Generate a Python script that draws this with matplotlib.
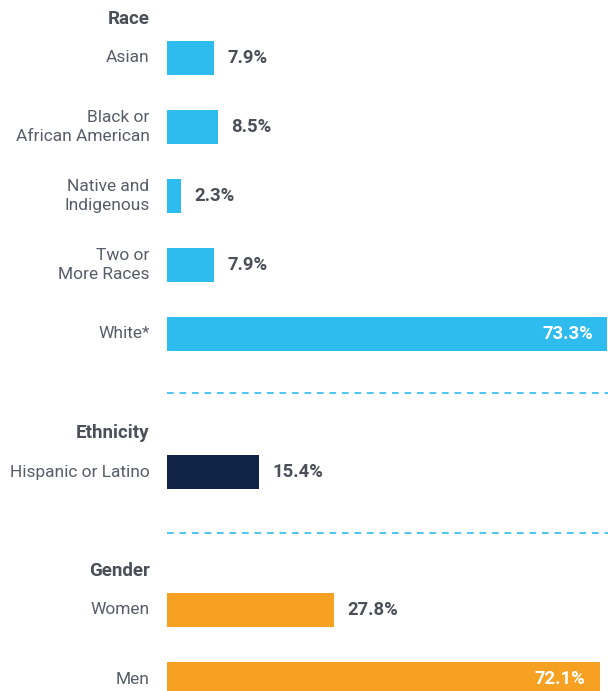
import matplotlib
matplotlib.use("Agg")
import matplotlib.pyplot as plt

# ---- data ----
race_labels = ["Asian", "Black or\nAfrican American", "Native and\nIndigenous", "Two or\nMore Races", "White*"]
race_values = [7.9, 8.5, 2.3, 7.9, 73.3]
eth_labels = ["Hispanic or Latino"]
eth_values = [15.4]
gender_labels = ["Women", "Men"]
gender_values = [27.8, 72.1]
section_titles = ["Race", "Ethnicity", "Gender"]

# ---- style ----
BLUE = "#2EBBEE"
NAVY = "#0F2346"
ORANGE = "#F7A123"
LABEL_C = "#585E69"
VALUE_C = "#4A4F58"
FONT = ["Roboto", "DejaVu Sans"]
plt.rcParams["font.family"] = FONT

W, H = 608, 691
fig = plt.figure(figsize=(W / 100, H / 100), dpi=100)
ax = fig.add_axes([0, 0, 1, 1])
ax.axis("off")

px_per_unit = 6.0
x0 = 167
ax.set_xlim(-x0 / px_per_unit, (W - x0) / px_per_unit)
slot = 69.0
top_c = 58.0
ax.set_ylim((H - top_c) / slot, -top_c / slot)

groups = [
    (section_titles[0], race_labels, race_values, BLUE, 0),
    (section_titles[1], eth_labels, eth_values, NAVY, 6),
    (section_titles[2], gender_labels, gender_values, ORANGE, 8),
]
header_offset = -0.57
bar_h = 34 / slot
label_x = -17.5 / px_per_unit
fs_lab = 12.5
fs_val = 13.3
fs_head = 13.5

for title, labels, values, color, start in groups:
    ys = [start + i for i in range(len(values))]
    ax.barh(ys, values, height=bar_h, color=color, left=0)
    ax.text(label_x, start + header_offset, title, ha="right", va="center",
            fontsize=fs_head, fontweight="bold", color=VALUE_C)
    for y, lab, v in zip(ys, labels, values):
        ax.text(label_x, y, lab, ha="right", va="center", fontsize=fs_lab,
                color=LABEL_C, linespacing=1.3)
        txt = f"{v:.1f}%"
        if v > 50:
            ax.annotate(txt, (v, y), xytext=(-10, 0), textcoords="offset points",
                        ha="right", va="center", fontsize=fs_val, fontweight="bold",
                        color="white")
        else:
            ax.annotate(txt, (v, y), xytext=(9.5, 0), textcoords="offset points",
                        ha="left", va="center", fontsize=fs_val, fontweight="bold",
                        color=VALUE_C)

# dashed separators
for ysep in [(393 - top_c) / slot, (533 - top_c) / slot]:
    ax.plot([0, (W - x0) / px_per_unit], [ysep, ysep], color=BLUE, lw=1.2,
            linestyle=(0, (4, 3.5)))

fig.savefig("out.png", dpi=100)
